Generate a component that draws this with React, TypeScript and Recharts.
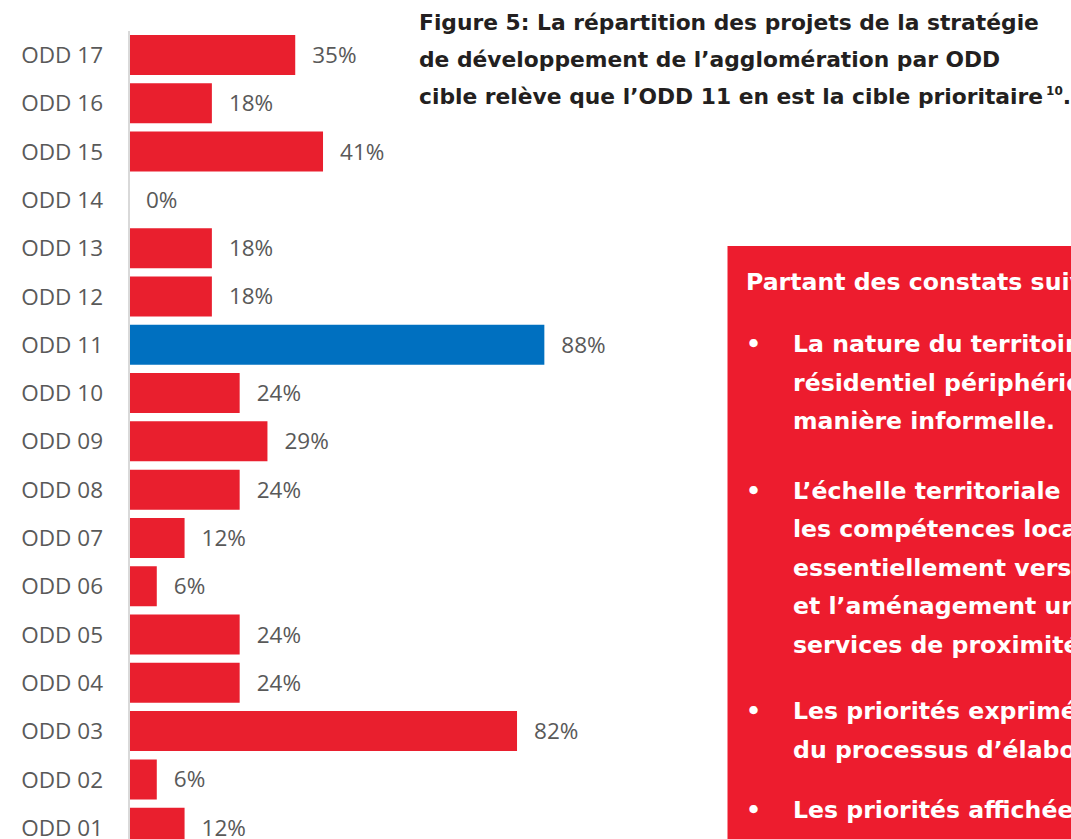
import React from 'react';
import { BarChart, Bar, XAxis, YAxis, Cell, LabelList } from 'recharts';

const categories = ['ODD 17', 'ODD 16', 'ODD 15', 'ODD 14', 'ODD 13', 'ODD 12', 'ODD 11', 'ODD 10', 'ODD 09', 'ODD 08', 'ODD 07', 'ODD 06', 'ODD 05', 'ODD 04', 'ODD 03', 'ODD 02', 'ODD 01'];
const values = [35.3, 17.6, 41.2, 0, 17.6, 17.6, 88.2, 23.5, 29.4, 23.5, 11.8, 5.9, 23.5, 23.5, 82.4, 5.9, 11.8];
const highlighted = ['ODD 11'];

const titleLines = [
  'Figure 5: La répartition des projets de la stratégie',
  'de développement de l’agglomération par ODD',
  'cible relève que l’ODD 11 en est la cible prioritaire',
];
const boxHeading = 'Partant des constats suivants :';
const boxLines = [
  { text: 'La nature du territoire', bullet: true },
  { text: 'résidentiel périphérique', bullet: false },
  { text: 'manière informelle.', bullet: false },
  { text: 'L’échelle territoriale', bullet: true },
  { text: 'les compétences locales', bullet: false },
  { text: 'essentiellement vers', bullet: false },
  { text: 'et l’aménagement urbain', bullet: false },
  { text: 'services de proximité', bullet: false },
  { text: 'Les priorités exprimées', bullet: true },
  { text: 'du processus d’élaboration', bullet: false },
  { text: 'Les priorités affichées', bullet: true },
];
const boxBaselines = [352, 390.5, 429, 498.5, 537, 575.5, 614, 652.5, 719, 758, 818];

const data = categories.map((name, i) => ({ name, value: values[i] }));

const RED = '#E91F2E';
const BLUE = '#0070C0';
const BOX_RED = '#ED1C2E';
const GRAY = '#595959';

export default function App() {
  return (
    <div style={{ position: 'absolute', left: 0, top: 0, width: 1071, height: 839, overflow: 'hidden', background: '#fff' }}>
      <div style={{ position: 'absolute', left: 0, top: 0 }}>
        <BarChart width={720} height={852} data={data} layout="vertical" margin={{ top: 31, right: 0, bottom: 0, left: 0 }}>
          <XAxis type="number" hide domain={[0, 125.5]} />
          <YAxis
            type="category"
            dataKey="name"
            width={129}
            interval={0}
            tickLine={false}
            tickSize={0}
            tickMargin={26}
            axisLine={{ stroke: '#D9D9D9', strokeWidth: 2 }}
            tick={{ fill: GRAY, fontSize: 22.5, fontFamily: 'Open Sans' }}
          />
          <Bar dataKey="value" barSize={40} minPointSize={0.01} isAnimationActive={false}>
            {data.map((d) => (
              <Cell key={d.name} fill={highlighted.includes(d.name) ? BLUE : RED} />
            ))}
            <LabelList
              dataKey="value"
              position="right"
              offset={17}
              formatter={(v: any) => `${Math.round(Number(v))}%`}
              style={{ fill: GRAY, fontSize: 22.5, fontFamily: 'Open Sans' }}
            />
          </Bar>
        </BarChart>
      </div>
      <svg width={1071} height={839} style={{ position: 'absolute', left: 0, top: 0, pointerEvents: 'none' }}>
        <g fontFamily="'DejaVu Sans'" fontWeight="bold" fill="#231F20" fontSize={21.8}>
          <text x={419} y={30}>{titleLines[0]}</text>
          <text x={419} y={67}>{titleLines[1]}</text>
          <text x={419} y={104}>
            {titleLines[2]}
            <tspan fontSize={12} dx={3} dy={-9}>10</tspan>
            <tspan dy={9}>.</tspan>
          </text>
        </g>
        <rect x={727.5} y={246} width={400} height={650} fill={BOX_RED} />
        <g fontFamily="'DejaVu Sans'" fontWeight="bold" fill="#ffffff" fontSize={23.6}>
          <text x={746} y={290}>{boxHeading}</text>
          {boxLines.map((l, i) => (
            <g key={i}>
              {l.bullet && <text x={746} y={boxBaselines[i]}>•</text>}
              <text x={793} y={boxBaselines[i]}>{l.text}</text>
            </g>
          ))}
        </g>
      </svg>
    </div>
  );
}
